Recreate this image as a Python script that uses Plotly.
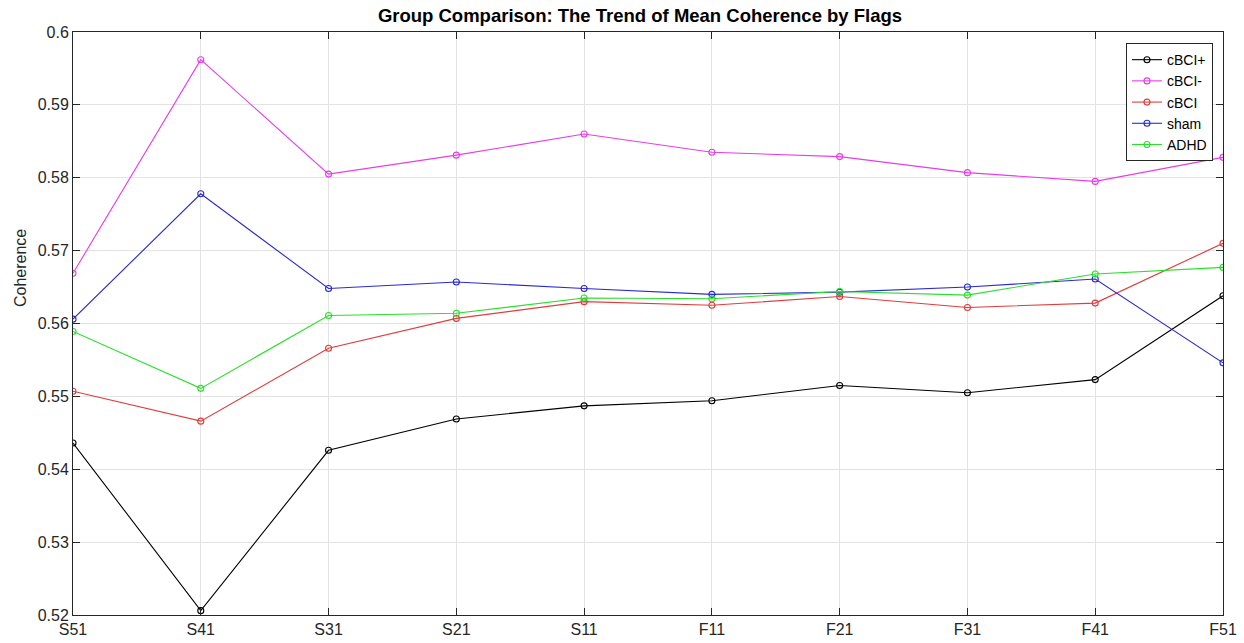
import plotly.graph_objects as go

categories = ["S51", "S41", "S31", "S21", "S11", "F11", "F21", "F31", "F41", "F51"]
cbci_plus = [0.5436, 0.5206, 0.5426, 0.5469, 0.5487, 0.5494, 0.5515, 0.5505, 0.5523, 0.5638]
cbci_minus = [0.5669, 0.5962, 0.5805, 0.5831, 0.5860, 0.5835, 0.5829, 0.5807, 0.5795, 0.5828]
cbci = [0.5507, 0.5466, 0.5566, 0.5607, 0.5630, 0.5625, 0.5637, 0.5622, 0.5628, 0.5710]
sham = [0.5606, 0.5778, 0.5648, 0.5657, 0.5648, 0.5640, 0.5643, 0.5650, 0.5661, 0.5546]
adhd = [0.5589, 0.5511, 0.5611, 0.5614, 0.5635, 0.5634, 0.5644, 0.5639, 0.5668, 0.5677]
yticks = [0.52, 0.53, 0.54, 0.55, 0.56, 0.57, 0.58, 0.59, 0.6]
ytick_labels = ["0.52", "0.53", "0.54", "0.55", "0.56", "0.57", "0.58", "0.59", "0.6"]

series = [
    ("cBCI+", cbci_plus, "#000000"),
    ("cBCI-", cbci_minus, "#e83ce8"),
    ("cBCI", cbci, "#e03c3c"),
    ("sham", sham, "#2a2ad2"),
    ("ADHD", adhd, "#28e028"),
]

fig = go.Figure()
for name, vals, color in series:
    fig.add_trace(go.Scatter(
        x=categories, y=vals, name=name, mode="lines+markers",
        line=dict(color=color, width=1.1),
        marker=dict(symbol="circle-open", size=6, color=color, line=dict(width=1.1, color=color)),
    ))

W, H = 1244, 643
L, R, T, B = 73, 21, 32, 28
font_family = "Liberation Sans, Arial, sans-serif"
fig.update_layout(
    width=W, height=H,
    margin=dict(l=L, r=R, t=T, b=B, autoexpand=False),
    paper_bgcolor="white", plot_bgcolor="white",
    font=dict(family=font_family, size=16, color="#262626"),
    title=dict(text="<b>Group Comparison: The Trend of Mean Coherence by Flags</b>",
               x=640 / W, xanchor="center", y=1 - 16 / H, yanchor="middle",
               font=dict(size=18.5, color="#000000")),
    showlegend=True,
    legend=dict(x=(1213 - L) / (W - L - R), xanchor="right", y=0.981, yanchor="top",
                bordercolor="#262626", borderwidth=1, bgcolor="white",
                font=dict(size=14, color="#000000"), tracegroupgap=0,
                itemwidth=30),
    annotations=[dict(
        text="Coherence", xref="paper", yref="paper",
        x=-(L - 20) / (W - L - R), xanchor="center",
        y=1 - (268 - T) / (H - T - B), yanchor="middle",
        textangle=-90, showarrow=False,
        font=dict(size=16, color="#262626"),
    )],
)
fig.update_xaxes(
    type="category", categoryorder="array", categoryarray=categories,
    range=[0, len(categories) - 1], automargin=False,
    showgrid=True, gridcolor="#e3e3e3", gridwidth=1,
    showline=True, linecolor="#262626", linewidth=1, mirror="allticks",
    ticks="inside", ticklen=7, tickcolor="#262626",
    tickfont=dict(size=16), zeroline=False,
)
fig.update_yaxes(
    range=[0.52, 0.6], tickvals=yticks, ticktext=ytick_labels, automargin=False,
    showgrid=True, gridcolor="#e3e3e3", gridwidth=1,
    showline=True, linecolor="#262626", linewidth=1, mirror="allticks",
    ticks="inside", ticklen=7, tickcolor="#262626",
    tickfont=dict(size=16), zeroline=False,
)

fig.write_html("out.html")
